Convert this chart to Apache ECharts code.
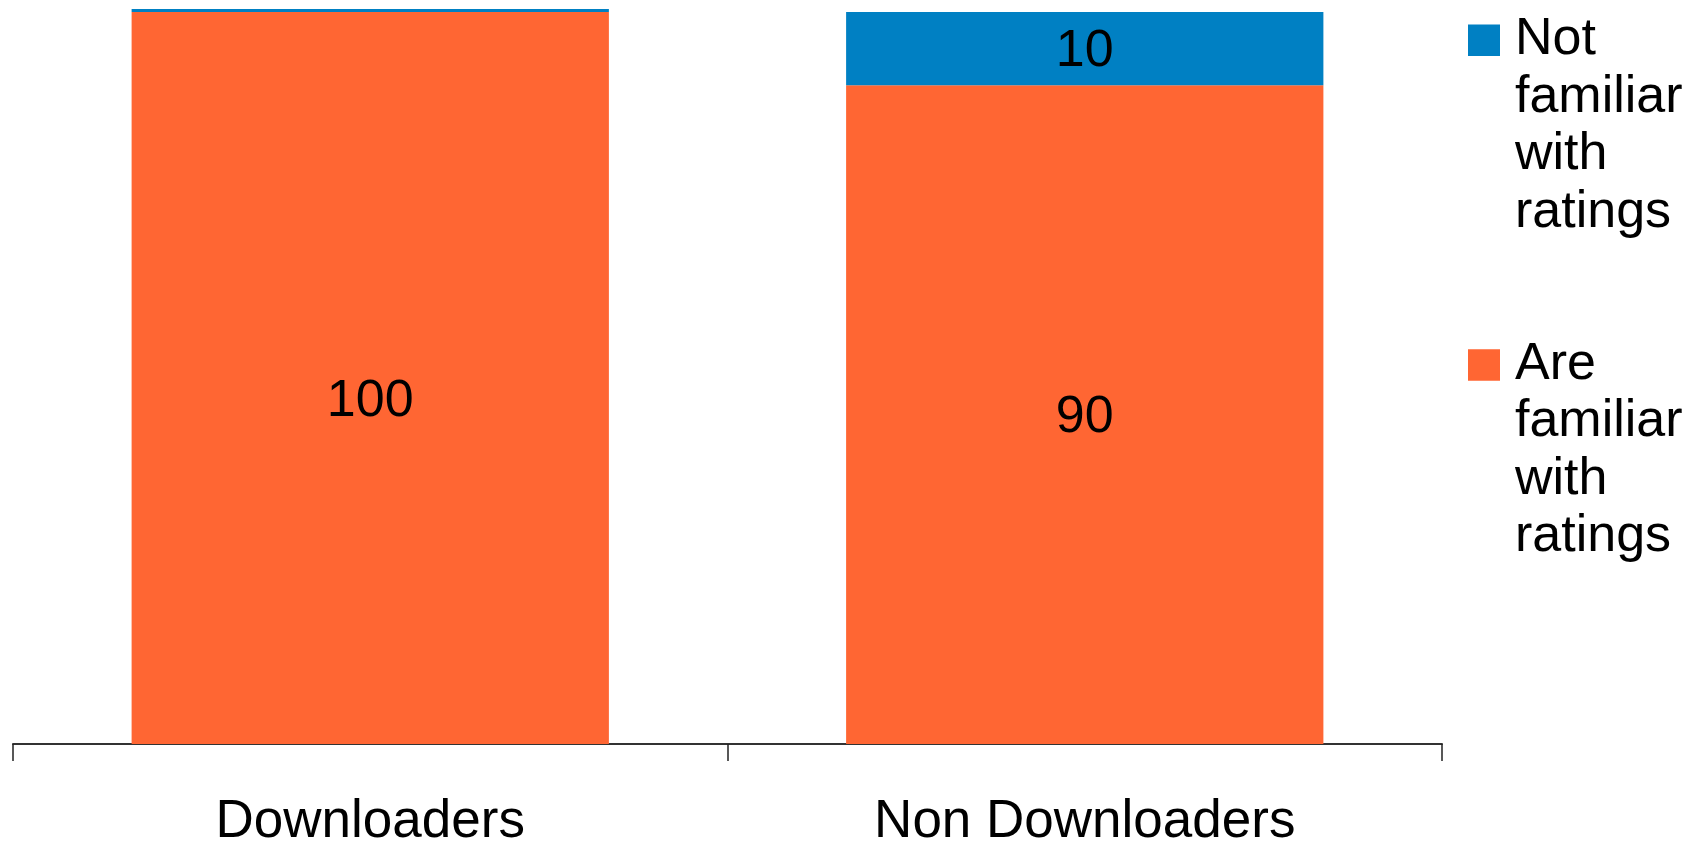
<!DOCTYPE html>
<html>
<head>
<meta charset="utf-8">
<title>Familiarity with ratings</title>
<script src="https://cdn.jsdelivr.net/npm/echarts@6/dist/echarts.min.js"></script>
<style>
  html, body { margin: 0; padding: 0; background: #fff; }
  #chart { width: 1692px; height: 843px; }
</style>
</head>
<body>
<div id="chart"></div>
<script>
// Respondent groups and their shares (percent)
const categories = ['Downloaders', 'Non Downloaders'];
const areFamiliar = [100, 90];
const notFamiliar = [0.4, 10];
const seriesNames = ['Not familiar with ratings', 'Are familiar with ratings'];

const FONT = '"Liberation Sans", Arial, sans-serif';
const BLUE = '#0080c3';
const ORANGE = '#ff6633';

// top of the value axis = tallest stacked column
const totals = categories.map((_, i) => areFamiliar[i] + notFamiliar[i]);
const yMax = Math.max(...totals);

// legend swatch: square near the top of a tall transparent box so it sits on the first text line
const LEGEND_LINE = 57.5;
const LEGEND_BLOCK = LEGEND_LINE * 4;
const swatch = 'path://M0,13.5h32v31.5h-32Z M0,0L0.01,0Z M42,' + LEGEND_BLOCK + 'L41.99,' + LEGEND_BLOCK + 'Z';

// value labels sit a little below the middle of their segments
const labelDrop = [24, 3];

const chart = echarts.init(document.getElementById('chart'), null, { renderer: 'canvas' });

chart.setOption({
  backgroundColor: '#ffffff',
  animation: false,
  grid: { left: 13, right: 250, top: 9, bottom: 99, outerBoundsMode: 'none', containLabel: false },
  legend: {
    orient: 'vertical',
    left: 1463,
    top: 6,
    padding: 5,
    itemGap: 94.7,
    itemWidth: 42,
    itemHeight: LEGEND_BLOCK,
    icon: swatch,
    selectedMode: false,
    data: [seriesNames[0], seriesNames[1]],
    formatter: name => name.split(' ').join('\n'),
    textStyle: { fontFamily: FONT, fontSize: 52, lineHeight: LEGEND_LINE, color: '#000' }
  },
  xAxis: {
    type: 'category',
    data: categories,
    axisLine: { lineStyle: { color: '#333', width: 2 } },
    axisTick: { show: true, length: 17, lineStyle: { color: '#222', width: 1.5 } },
    axisLabel: { fontFamily: FONT, fontSize: 53, color: '#000', margin: 52 }
  },
  yAxis: {
    type: 'value',
    min: 0,
    max: yMax,
    show: false,
    splitLine: { show: false }
  },
  series: [
    {
      name: seriesNames[1],
      type: 'bar',
      stack: 'total',
      barCategoryGap: '33.2%',
      data: areFamiliar.map((v, i) => ({ value: v, label: { offset: [0, labelDrop[i]] } })),
      itemStyle: { color: ORANGE },
      label: {
        show: true,
        position: 'inside',
        fontFamily: FONT,
        fontSize: 52,
        color: '#000'
      }
    },
    {
      name: seriesNames[0],
      type: 'bar',
      stack: 'total',
      data: notFamiliar,
      itemStyle: { color: BLUE },
      label: {
        show: true,
        position: 'inside',
        offset: [0, 3],
        fontFamily: FONT,
        fontSize: 52,
        color: '#000',
        formatter: p => (p.value >= 1 ? String(p.value) : '')
      }
    }
  ]
});
</script>
</body>
</html>
